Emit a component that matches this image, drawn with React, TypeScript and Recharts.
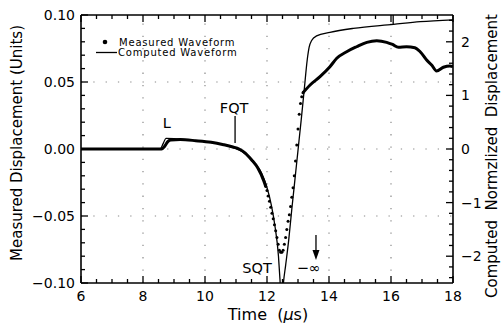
import { ComposedChart, Line, XAxis, YAxis, ReferenceLine, ReferenceDot, Legend } from 'recharts';

const FONT = '"DejaVu Sans", sans-serif';

// axis ticks
const timeTicks = [6, 6.5, 7, 7.5, 8, 8.5, 9, 9.5, 10, 10.5, 11, 11.5, 12, 12.5, 13, 13.5, 14, 14.5, 15, 15.5, 16, 16.5, 17, 17.5, 18];
const dispTicks = [-0.1, -0.09, -0.08, -0.07, -0.06, -0.05, -0.04, -0.03, -0.02, -0.01, 0, 0.01, 0.02, 0.03, 0.04, 0.05, 0.06, 0.07, 0.08, 0.09, 0.1];
const normTicks = [-2.4, -2.2, -2, -1.8, -1.6, -1.4, -1.2, -1, -0.8, -0.6, -0.4, -0.2, 0, 0.2, 0.4, 0.6, 0.8, 1, 1.2, 1.4, 1.6, 1.8, 2, 2.2, 2.4];
const gridTime = [8, 10, 12, 14, 16];
const gridDisp = [-0.05, 0, 0.05];

// measured waveform (units), solid part before the fast swing
const measuredLeadTime = [6, 7, 8, 8.6, 8.7, 8.8, 8.9, 9.2, 9.7, 10.2, 10.6, 10.9, 11.1, 11.3, 11.5, 11.7, 11.9, 11.96];
const measuredLeadValue = [0, 0, 0, 0, 0.002, 0.0055, 0.0068, 0.007, 0.0062, 0.005, 0.0032, 0.0015, 0, -0.003, -0.008, -0.014, -0.024, -0.028];

// measured samples drawn as dots
const measuredDotTime = [11.96, 12.0, 12.04, 12.08, 12.12, 12.16, 12.2, 12.24, 12.28, 12.32, 12.36, 12.4, 12.44, 12.48, 12.52, 12.56, 12.6, 12.64, 12.68, 12.72, 12.76, 12.8, 12.84, 12.88, 12.92, 12.96, 13.0, 13.04, 13.08, 13.12, 13.16];
const measuredDotValue = [-0.028, -0.031, -0.035, -0.039, -0.0435, -0.048, -0.052, -0.0565, -0.061, -0.066, -0.071, -0.0755, -0.077, -0.077, -0.0755, -0.071, -0.066, -0.06, -0.054, -0.049, -0.043, -0.036, -0.029, -0.02, -0.009, 0.003, 0.015, 0.026, 0.034, 0.039, 0.042];

// measured, solid part after the swing
const measuredTailTime = [13.16, 13.39, 13.71, 14.03, 14.25, 14.57, 14.89, 15.22, 15.54, 15.86, 16.05, 16.24, 16.5, 16.77, 16.94, 17.15, 17.31, 17.47, 17.69, 17.9, 18];
const measuredTailValue = [0.042, 0.0478, 0.054, 0.0614, 0.0677, 0.0726, 0.0763, 0.0796, 0.0808, 0.0796, 0.078, 0.0759, 0.0763, 0.0756, 0.0726, 0.0664, 0.0627, 0.0582, 0.061, 0.062, 0.0615];

// computed waveform (normalized displacement)
const computedTime = [6, 8.55, 8.65, 8.74, 9.0, 9.5, 10.0, 10.3, 10.6, 10.8, 11.0, 11.2, 11.45, 11.6, 11.77, 11.9, 11.99, 12.15, 12.26, 12.37, 12.42, 12.47, 12.53, 12.6, 12.7, 12.8, 12.9, 13.0, 13.1, 13.2, 13.3, 13.36, 13.44, 13.6, 14.03, 14.78, 16.08, 16.94, 18];
const computedValue = [0, 0, 0.1, 0.2, 0.195, 0.17, 0.14, 0.115, 0.08, 0.045, 0.005, -0.05, -0.175, -0.275, -0.39, -0.55, -0.7, -1.075, -1.45, -2.0, -2.45, -3.0, -2.5, -2.175, -1.7, -1.125, -0.575, -0.025, 0.525, 1.1, 1.675, 1.9, 2.025, 2.11, 2.175, 2.25, 2.325, 2.375, 2.41];

const zip = (ts: number[], vs: number[]) => ts.map((t, i) => ({ t, v: vs[i] }));
const measuredLead = zip(measuredLeadTime, measuredLeadValue);
const measuredDots = zip(measuredDotTime, measuredDotValue);
const measuredTail = zip(measuredTailTime, measuredTailValue);
const computed = zip(computedTime, computedValue);

const minus = (s: string) => s.replace('-', '\u2212');
const PRE = { whiteSpace: 'pre' as const };

const BottomTick = ({ x, y, payload }: any) => {
  const major = Math.abs(payload.value % 2) < 1e-6;
  return (
    <g>
      <line x1={x} x2={x} y1={y} y2={y - (major ? 7 : 4)} stroke="#000" strokeWidth={1.3} />
      {major && (
        <text x={x} y={y + 18} textAnchor="middle" fontSize={14} fontFamily={FONT} fill="#000">
          {payload.value}
        </text>
      )}
    </g>
  );
};

const TopTick = ({ x, y, payload }: any) => {
  const major = Math.abs(payload.value % 2) < 1e-6;
  return <line x1={x} x2={x} y1={y} y2={y + (major ? 7 : 4)} stroke="#000" strokeWidth={1.3} />;
};

const LeftTick = ({ x, y, payload }: any) => {
  const major = Math.round(payload.value * 100) % 5 === 0;
  return (
    <g>
      <line x1={x} x2={x + (major ? 7 : 4)} y1={y} y2={y} stroke="#000" strokeWidth={1.3} />
      {major && (
        <text x={x - 6} y={y} dy="0.36em" textAnchor="end" fontSize={14} fontFamily={FONT} fill="#000">
          {minus(payload.value.toFixed(2))}
        </text>
      )}
    </g>
  );
};

const RightTick = ({ x, y, payload }: any) => {
  const major = Math.abs(Math.round(payload.value * 10) % 10) === 0;
  return (
    <g>
      <line x1={x} x2={x - (major ? 7 : 4)} y1={y} y2={y} stroke="#000" strokeWidth={1.3} />
      {major && (
        <text x={x + 8} y={y} dy="0.36em" textAnchor="start" fontSize={14} fontFamily={FONT} fill="#000">
          {minus(String(Math.round(payload.value)))}
        </text>
      )}
    </g>
  );
};

const LeftLabel = () => (
  <text x={17} y={143} dy="0.36em" textAnchor="middle" fontSize={15} fontFamily={FONT} fill="#000" transform="rotate(-90 17 143)">
    Measured Displacement (Units)
  </text>
);

const RightLabel = () => (
  <text x={492} y={156} dy="0.36em" textAnchor="middle" fontSize={15} fontFamily={FONT} fill="#000" transform="rotate(-90 492 156)" style={PRE}>
    Computed  Normzlized  Displacement
  </text>
);

const BottomLabel = () => (
  <text x={268} y={320} textAnchor="middle" fontSize={16} fontFamily={FONT} fill="#000" style={PRE}>
    Time  (<tspan fontStyle="italic">μ</tspan>s)
  </text>
);

const annot = (txt: string) => (p: any) => (
  <text x={p.cx} y={p.cy} dy="0.36em" textAnchor="middle" fontSize={14.5} fontFamily={FONT} fill="#000">
    {txt}
  </text>
);

const ArrowHead = (p: any) => (
  <path d={`M${p.cx - 3.5},${p.cy - 10} L${p.cx + 3.5},${p.cy - 10} L${p.cx},${p.cy} Z`} fill="#000" />
);

const LegendBox = () => (
  <svg width={170} height={24} style={{ display: 'block' }}>
    <circle cx={10} cy={5} r={2.3} fill="#000" />
    <text x={24} y={5} dy="0.35em" fontSize={10} fontFamily={FONT} letterSpacing={0.8} fill="#000">
      Measured Waveform
    </text>
    <line x1={1} x2={22} y1={15.5} y2={15.5} stroke="#000" strokeWidth={1.3} />
    <text x={23} y={15.5} dy="0.35em" fontSize={10} fontFamily={FONT} letterSpacing={0.8} fill="#000">
      Computed Waveform
    </text>
  </svg>
);

export default function App() {
  return (
    <div style={{ position: 'absolute', left: 0, top: 0, background: '#fff' }}>
      <ComposedChart width={504} height={326} margin={{ top: 0, right: 0, bottom: 0, left: 0 }}>
        <XAxis
          dataKey="t"
          type="number"
          domain={[6, 18]}
          allowDataOverflow
          ticks={timeTicks}
          interval={0}
          height={43}
          tickSize={0}
          tickMargin={0}
          tick={<BottomTick />}
          axisLine={{ stroke: '#000', strokeWidth: 1.6 }}
          label={<BottomLabel />}
        />
        <XAxis
          xAxisId="top"
          orientation="top"
          dataKey="t"
          type="number"
          domain={[6, 18]}
          allowDataOverflow
          ticks={timeTicks}
          interval={0}
          height={15}
          tickSize={0}
          tickMargin={0}
          tick={<TopTick />}
          axisLine={{ stroke: '#000', strokeWidth: 1.6 }}
        />
        <YAxis
          type="number"
          domain={[-0.1, 0.1]}
          allowDataOverflow
          ticks={dispTicks}
          interval={0}
          width={81}
          tickSize={0}
          tickMargin={0}
          tick={<LeftTick />}
          axisLine={{ stroke: '#000', strokeWidth: 1.6 }}
          label={<LeftLabel />}
        />
        <YAxis
          yAxisId="right"
          orientation="right"
          type="number"
          domain={[-2.5, 2.5]}
          allowDataOverflow
          ticks={normTicks}
          interval={0}
          width={51}
          tickSize={0}
          tickMargin={0}
          tick={<RightTick />}
          axisLine={{ stroke: '#000', strokeWidth: 1.6 }}
          label={<RightLabel />}
        />

        {gridTime.map((t) => (
          <ReferenceLine key={`gx${t}`} x={t} stroke="#8a8a8a" strokeWidth={1.2} strokeDasharray="1.3 11" />
        ))}
        {gridDisp.map((v) => (
          <ReferenceLine key={`gy${v}`} y={v} stroke="#8a8a8a" strokeWidth={1.2} strokeDasharray="1.3 11" />
        ))}

        <Line yAxisId="right" data={computed} dataKey="v" type="monotone" stroke="#000" strokeWidth={1.3} dot={false} activeDot={false} isAnimationActive={false} />
        <Line data={measuredLead} dataKey="v" type="monotone" stroke="#000" strokeWidth={3} strokeLinejoin="round" dot={false} activeDot={false} isAnimationActive={false} />
        <Line data={measuredDots} dataKey="v" type="linear" stroke="none" dot={{ r: 1.5, fill: '#000', stroke: 'none' }} activeDot={false} isAnimationActive={false} />
        <Line data={measuredTail} dataKey="v" type="monotone" stroke="#000" strokeWidth={3} strokeLinejoin="round" dot={false} activeDot={false} isAnimationActive={false} />

        <ReferenceLine segment={[{ x: 10.97, y: 0.0246 }, { x: 10.97, y: 0.0045 }]} stroke="#000" strokeWidth={1.3} />
        <ReferenceLine segment={[{ x: 16.07, y: 0.1 }, { x: 16.07, y: 0.0932 }]} stroke="#000" strokeWidth={1.3} />
        <ReferenceLine segment={[{ x: 13.58, y: -0.0642 }, { x: 13.58, y: -0.079 }]} stroke="#000" strokeWidth={1.3} />
        <ReferenceDot x={13.58} y={-0.0828} r={0} shape={ArrowHead} />
        <ReferenceDot x={8.77} y={0.0194} r={0} shape={annot('L')} />
        <ReferenceDot x={10.94} y={0.0306} r={0} shape={annot('FQT')} />
        <ReferenceDot x={11.68} y={-0.0888} r={0} shape={annot('SQT')} />
        <ReferenceDot x={13.35} y={-0.0888} r={0} shape={annot('\u2212\u221E')} />

        <Legend
          layout="vertical"
          align="center"
          verticalAlign="middle"
          content={<LegendBox />}
          wrapperStyle={{ left: 95, top: 37, width: 170, height: 24 }}
        />
      </ComposedChart>
    </div>
  );
}
